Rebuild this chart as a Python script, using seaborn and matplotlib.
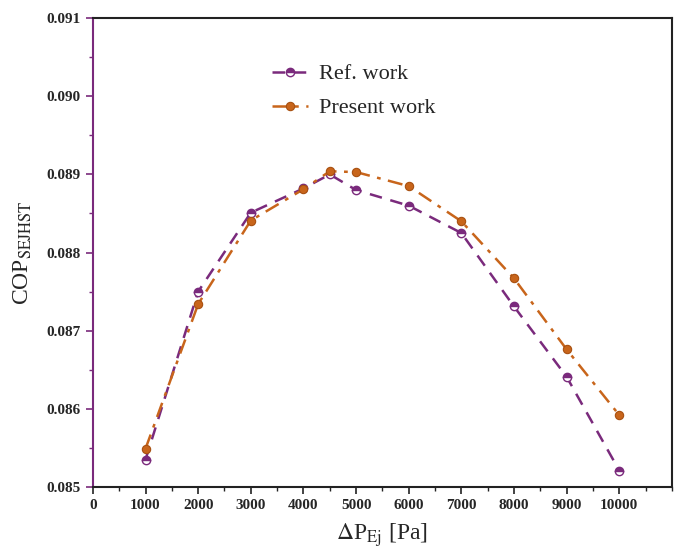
import matplotlib
matplotlib.use("Agg")
import matplotlib.pyplot as plt
from matplotlib.ticker import MultipleLocator, FixedLocator, FormatStrFormatter
import seaborn as sns
import pandas as pd

# Pressure drop values (Pa)
pressure_ref = [1000, 2000, 3000, 4000, 4500, 5000, 6000, 7000, 8000, 9000, 10000]
pressure_present = [1000, 2000, 3000, 4000, 4500, 5000, 6000, 7000, 8000, 9000, 10000]

# Coefficient of performance
cop_ref = [0.08535, 0.08750, 0.08851, 0.08882, 0.08900, 0.08880, 0.08860,
           0.08825, 0.08731, 0.08641, 0.08521]
cop_present = [0.08549, 0.08734, 0.08841, 0.08881, 0.08904, 0.08903, 0.08885,
               0.08840, 0.08767, 0.08676, 0.08592]

series_names = ["Ref. work", "Present work"]
x_ticks = [0, 1000, 2000, 3000, 4000, 5000, 6000, 7000, 8000, 9000, 10000]

sns.set_theme(style="white")
plt.rcParams["font.family"] = ["Liberation Serif", "DejaVu Serif"]
plt.rcParams["mathtext.fontset"] = "stix"

purple = "#7a2a7c"
orange = "#c8651b"

df_ref = pd.DataFrame({"dp": pressure_ref, "cop": cop_ref})
df_pre = pd.DataFrame({"dp": pressure_present, "cop": cop_present})

fig = plt.figure(figsize=(6.78, 5.49), dpi=100)
ax = fig.add_axes([0.137, 0.113, 0.854, 0.854])

sns.lineplot(data=df_ref, x="dp", y="cop", ax=ax, color=purple,
             linestyle=(0, (5, 3.5)), linewidth=1.8, marker="o",
             markersize=6, fillstyle="top", markerfacecoloralt="white",
             markeredgecolor=purple, markeredgewidth=1.0,
             label=series_names[0])
sns.lineplot(data=df_pre, x="dp", y="cop", ax=ax, color=orange,
             linestyle=(0, (6, 3, 1.5, 3)), linewidth=1.8, marker="o",
             markersize=6, markerfacecolor=orange, markeredgecolor="#a85010",
             markeredgewidth=0.8, label=series_names[1])

ax.set_xlim(0, 11000)
ax.set_ylim(0.085, 0.091)
ax.xaxis.set_major_locator(FixedLocator(x_ticks))
ax.xaxis.set_minor_locator(MultipleLocator(500))
ax.yaxis.set_major_locator(MultipleLocator(0.001))
ax.yaxis.set_minor_locator(MultipleLocator(0.0005))
ax.yaxis.set_major_formatter(FormatStrFormatter("%.3f"))

ax.tick_params(axis="both", which="major", direction="out", length=5,
               width=1.2, labelsize=11, color="#222222", pad=4)
ax.tick_params(axis="both", which="minor", direction="out", length=3,
               width=1.0, color="#222222")
ax.tick_params(axis="y", which="both", color=purple)
ax.tick_params(bottom=True, left=True, which="both")
for lbl in ax.get_xticklabels() + ax.get_yticklabels():
    lbl.set_fontweight("bold")

for side in ["top", "right", "bottom"]:
    ax.spines[side].set_color("#222222")
    ax.spines[side].set_linewidth(1.5)
ax.spines["left"].set_color(purple)
ax.spines["left"].set_linewidth(1.5)

ax.set_xlabel(r"$\Delta$P$_{\mathrm{Ej}}$ [Pa]", fontsize=17, labelpad=6)
ax.set_ylabel(r"COP$_{\mathrm{SEJHST}}$", fontsize=17, labelpad=9)

leg = ax.legend(loc="upper left", bbox_to_anchor=(0.275, 0.945), frameon=False,
                fontsize=16, handlelength=1.6, handletextpad=0.5,
                labelspacing=0.6)

fig.savefig("out.png", dpi=100)
